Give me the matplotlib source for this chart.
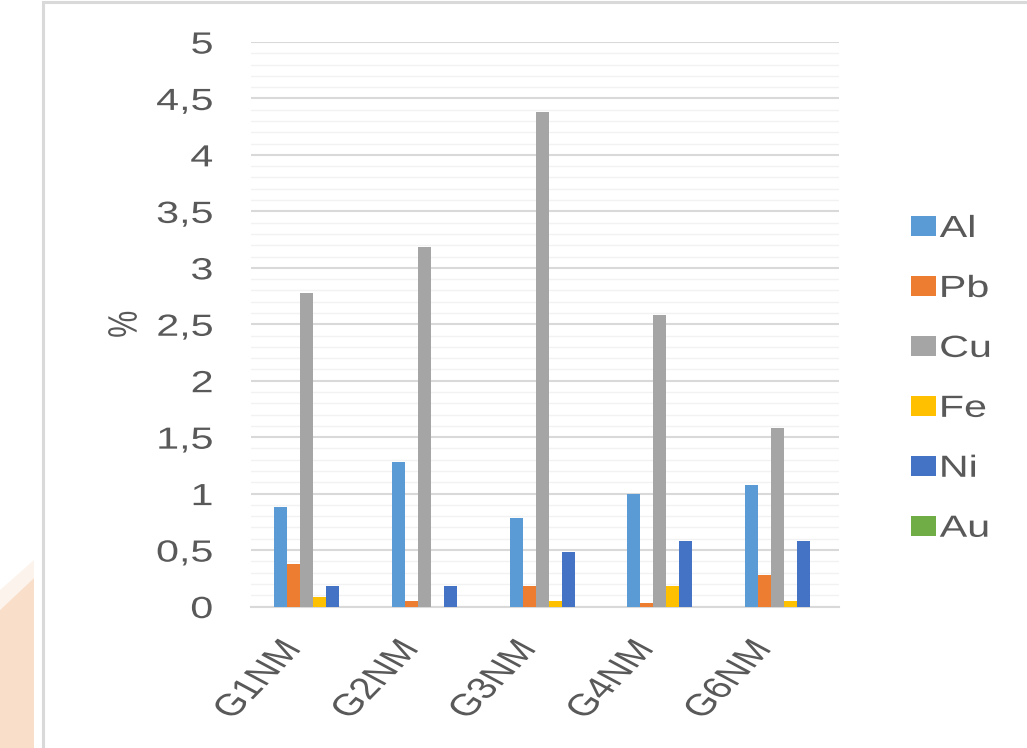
import matplotlib
matplotlib.use("Agg")
import matplotlib.pyplot as plt
import numpy as np
from matplotlib import patheffects
from matplotlib.transforms import Affine2D, ScaledTranslation
from matplotlib.patches import Rectangle, Polygon
from matplotlib.ticker import MultipleLocator

# ---- data -------------------------------------------------------------
samples = ["G1NM", "G2NM", "G3NM", "G4NM", "G6NM"]
elements = ["Al", "Pb", "Cu", "Fe", "Ni", "Au"]
al = [0.88, 1.28, 0.78, 1.00, 1.08]
pb = [0.38, 0.05, 0.18, 0.03, 0.28]
cu = [2.78, 3.18, 4.38, 2.58, 1.58]
fe = [0.08, 0.00, 0.05, 0.18, 0.05]
ni = [0.18, 0.18, 0.48, 0.58, 0.58]
au = [0.00, 0.00, 0.00, 0.00, 0.00]
y_ticks = [0, 0.5, 1, 1.5, 2, 2.5, 3, 3.5, 4, 4.5, 5]
y_tick_labels = ["0", "0,5", "1", "1,5", "2", "2,5", "3", "3,5", "4", "4,5", "5"]
y_label = "%"

series = [al, pb, cu, fe, ni, au]
colors = ["#5B9BD5", "#ED7D31", "#A5A5A5", "#FFC000", "#4472C4", "#70AD47"]
text_color = "#595959"


class Widen(patheffects.AbstractPathEffect):
    """Draw text stretched horizontally about its left/right edge or centre."""

    def __init__(self, factor, anchor="center"):
        super().__init__((0, 0))
        self._factor = factor
        self._anchor = anchor

    def draw_path(self, renderer, gc, tpath, affine, rgbFace=None):
        ext = tpath.get_extents(affine)
        if self._anchor == "left":
            x0 = ext.x0
        elif self._anchor == "right":
            x0 = ext.x1
        else:
            x0 = 0.5 * (ext.x0 + ext.x1)
        widen = Affine2D().translate(-x0, 0).scale(self._factor, 1).translate(x0, 0)
        renderer.draw_path(gc, tpath, affine + widen, rgbFace)


STRETCH = 1.35
W, H = 1027, 748
plt.rcParams["font.family"] = ["Liberation Sans", "DejaVu Sans"]
plt.rcParams["font.size"] = 22

fig = plt.figure(figsize=(W / 100, H / 100), dpi=100)
fig.patch.set_facecolor("white")

# chart frame and decoration at the left margin
fig.patches.append(Polygon([(0, 1 - 590 / H), (34 / W, 1 - 560 / H), (34 / W, 1 - 578 / H), (0, 1 - 610 / H)],
                           closed=True, transform=fig.transFigure, facecolor="#f9dfca",
                           edgecolor="none", alpha=0.35, zorder=0))
fig.patches.append(Polygon([(0, 1 - 610 / H), (34 / W, 1 - 578 / H), (34 / W, 0), (0, 0)],
                           closed=True, transform=fig.transFigure, facecolor="#f9dfca",
                           edgecolor="none", zorder=0))
fig.patches.append(Rectangle((42.5 / W, -0.1), 1.1 - 42.5 / W, 1.1 - 2.5 / H,
                             transform=fig.transFigure, facecolor="none",
                             edgecolor="#d9d9d9", linewidth=2.2, zorder=0))

ax = fig.add_axes([251 / W, 141.5 / H, 588 / W, 564.5 / H])
ax.set_facecolor("none")

x = np.arange(len(samples))
width = 0.1105
handles = []
for i, (vals, col, name) in enumerate(zip(series, colors, elements)):
    bars = ax.bar(x + (i - 2.5) * width, vals, width, color=col, label=name,
                  linewidth=0, zorder=3)
    handles.append(bars)

ax.set_xlim(-0.53, 4.47)
ax.set_ylim(0, 5)

ax.set_yticks(y_ticks, y_tick_labels)
ax.yaxis.set_minor_locator(MultipleLocator(0.1))
ax.grid(True, axis="y", which="major", color="#d9d9d9", linewidth=1.5, zorder=1)
ax.grid(True, axis="y", which="minor", color="#f2f2f2", linewidth=1.0, zorder=1)
ax.set_axisbelow(True)

for side in ["left", "right", "top"]:
    ax.spines[side].set_visible(False)
ax.spines["bottom"].set_color("#d9d9d9")
ax.spines["bottom"].set_linewidth(1.5)
ax.spines["bottom"].set_zorder(2)

ax.tick_params(axis="y", which="both", length=0, pad=27.4, labelcolor=text_color)
ax.tick_params(axis="x", which="both", length=0, pad=0, labelcolor=text_color)

for lab in ax.get_yticklabels():
    lab.set_path_effects([Widen(STRETCH, "right")])

ax.set_xticks(x, samples, rotation=54, ha="right", va="center", rotation_mode="anchor")
shift = ScaledTranslation(-0.18, -0.38, fig.dpi_scale_trans)
for lab in ax.get_xticklabels():
    lab.set_transform(lab.get_transform() + shift)
    lab.set_path_effects([Widen(STRETCH, "right")])

ylab = ax.set_ylabel(y_label, color=text_color, va="center")
ax.yaxis.set_label_coords((125 - 251) / 588, 0.5)
ylab.set_path_effects([Widen(STRETCH, "center")])

leg = ax.legend(handles, elements, loc="upper left",
                bbox_to_anchor=(911 / W, 1 - 214 / H), bbox_transform=fig.transFigure,
                frameon=False, borderpad=0, borderaxespad=0, handlelength=0.82,
                handleheight=0.63, handletextpad=0.12, labelspacing=0.98, fontsize=22)
for t in leg.get_texts():
    t.set_color(text_color)
    t.set_path_effects([Widen(STRETCH, "left")])

fig.savefig("out.png", dpi=100, facecolor=fig.get_facecolor())
